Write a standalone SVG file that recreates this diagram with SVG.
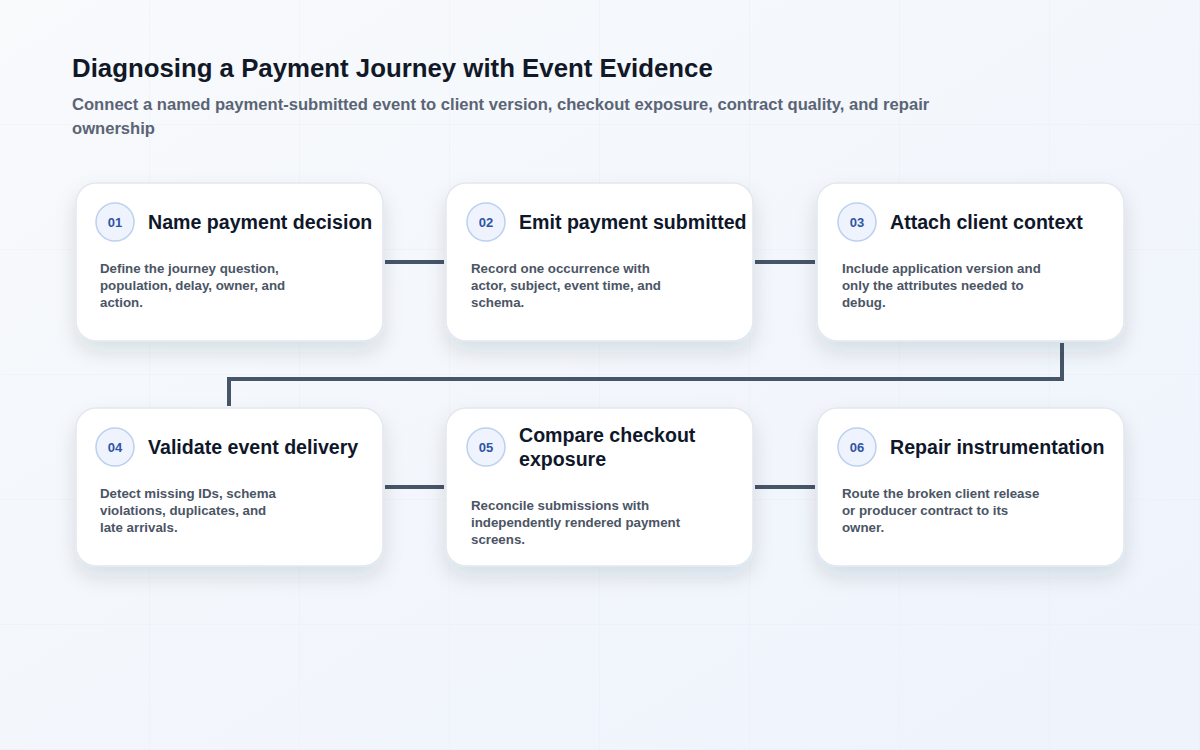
<svg xmlns="http://www.w3.org/2000/svg" width="1200" height="750" viewBox="0 0 1200 750">
<defs>
<linearGradient id="bg" x1="0" y1="0" x2="1" y2="1">
<stop offset="0" stop-color="#f8fafc"/>
<stop offset="1" stop-color="#eef3fc"/>
</linearGradient>
<pattern id="grid" width="150" height="125" patternUnits="userSpaceOnUse" x="0" y="0">
<path d="M150 0V125M0 125H150" fill="none" stroke="#e6ebf3" stroke-width="1"/>
</pattern>
<filter id="sh" x="-20%" y="-20%" width="140%" height="160%">
<feDropShadow dx="0" dy="10" stdDeviation="10" flood-color="#1e293b" flood-opacity="0.12"/>
</filter>
<style>
.card{fill:#ffffff;stroke:#e2e8f0;stroke-width:1.5;filter:url(#sh)}
.badge{fill:#eef3fd;stroke:#bcd0f0;stroke-width:1.5}
.num{font-family:"Liberation Sans",Arial,sans-serif;font-weight:700;font-size:13px;fill:#2f55a4;text-anchor:middle}
.ttl{font-family:"Liberation Sans",Arial,sans-serif;font-weight:700;font-size:19.6px;fill:#0f172a}
.desc{font-family:"Liberation Sans",Arial,sans-serif;font-weight:700;font-size:13.3px;fill:#4b5565}
.conn{fill:none;stroke:#475569;stroke-width:4;stroke-linejoin:miter}
</style>
</defs>
<rect width="1200" height="750" fill="url(#bg)"/>
<rect width="1200" height="750" fill="url(#grid)" opacity="0.7"/>
<g id="header">
<text x="72" y="77" font-family="'Liberation Sans',Arial,sans-serif" font-weight="700" font-size="25.8" fill="#111827">Diagnosing a Payment Journey with Event Evidence</text>
<text font-family="'Liberation Sans',Arial,sans-serif" font-weight="700" font-size="16.6" fill="#5b6475"><tspan x="72" y="110">Connect a named payment-submitted event to client version, checkout exposure, contract quality, and repair</tspan><tspan x="72" y="134">ownership</tspan></text>
</g>
<g id="connectors">
<path class="conn" d="M385 262H444"/>
<path class="conn" d="M755 262H815"/>
<path class="conn" d="M1062 343V379H229V406"/>
<path class="conn" d="M385 487H444"/>
<path class="conn" d="M755 487H815"/>
</g>
<g id="node1">
<rect class="card" x="76" y="183" width="307" height="158" rx="20"/>
<circle class="badge" cx="115" cy="222" r="19"/>
<text class="num" x="115" y="227">01</text>
<text class="ttl" x="148" y="229">Name payment decision</text>
<text class="desc"><tspan x="100" y="273">Define the journey question,</tspan><tspan x="100" y="290">population, delay, owner, and</tspan><tspan x="100" y="307">action.</tspan></text>
</g>
<g id="node2">
<rect class="card" x="446" y="183" width="307" height="158" rx="20"/>
<circle class="badge" cx="486" cy="222" r="19"/>
<text class="num" x="486" y="227">02</text>
<text class="ttl" x="519" y="229">Emit payment submitted</text>
<text class="desc"><tspan x="471" y="273">Record one occurrence with</tspan><tspan x="471" y="290">actor, subject, event time, and</tspan><tspan x="471" y="307">schema.</tspan></text>
</g>
<g id="node3">
<rect class="card" x="817" y="183" width="307" height="158" rx="20"/>
<circle class="badge" cx="857" cy="222" r="19"/>
<text class="num" x="857" y="227">03</text>
<text class="ttl" x="890" y="229">Attach client context</text>
<text class="desc"><tspan x="842" y="273">Include application version and</tspan><tspan x="842" y="290">only the attributes needed to</tspan><tspan x="842" y="307">debug.</tspan></text>
</g>
<g id="node4">
<rect class="card" x="76" y="408" width="307" height="158" rx="20"/>
<circle class="badge" cx="115" cy="447" r="19"/>
<text class="num" x="115" y="452">04</text>
<text class="ttl" x="148" y="454">Validate event delivery</text>
<text class="desc"><tspan x="100" y="498">Detect missing IDs, schema</tspan><tspan x="100" y="515">violations, duplicates, and</tspan><tspan x="100" y="532">late arrivals.</tspan></text>
</g>
<g id="node5">
<rect class="card" x="446" y="408" width="307" height="158" rx="20"/>
<circle class="badge" cx="486" cy="447" r="19"/>
<text class="num" x="486" y="452">05</text>
<text class="ttl"><tspan x="519" y="442">Compare checkout</tspan><tspan x="519" y="466">exposure</tspan></text>
<text class="desc"><tspan x="471" y="510">Reconcile submissions with</tspan><tspan x="471" y="527">independently rendered payment</tspan><tspan x="471" y="544">screens.</tspan></text>
</g>
<g id="node6">
<rect class="card" x="817" y="408" width="307" height="158" rx="20"/>
<circle class="badge" cx="857" cy="447" r="19"/>
<text class="num" x="857" y="452">06</text>
<text class="ttl" x="890" y="454">Repair instrumentation</text>
<text class="desc"><tspan x="842" y="498">Route the broken client release</tspan><tspan x="842" y="515">or producer contract to its</tspan><tspan x="842" y="532">owner.</tspan></text>
</g>
</svg>
